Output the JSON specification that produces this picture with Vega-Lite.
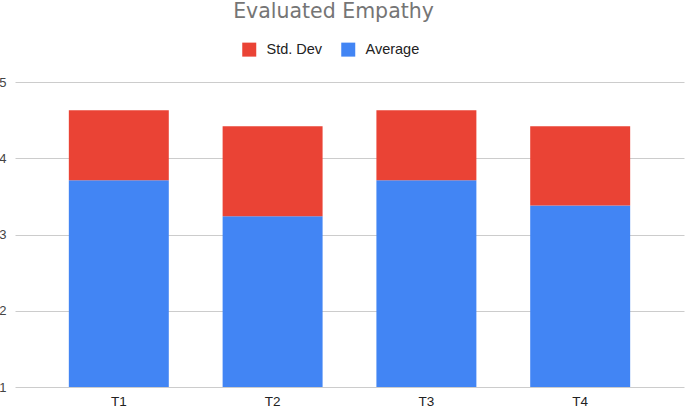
{
  "$schema": "https://vega.github.io/schema/vega-lite/v6.json",
  "width": 669,
  "height": 305,
  "autosize": {"type": "none"},
  "padding": {"left": 15, "top": 82, "right": 1, "bottom": 21},
  "background": "white",
  "title": {
    "text": "Evaluated Empathy",
    "anchor": "middle",
    "font": "DejaVu Sans",
    "fontSize": 20.5,
    "fontWeight": "normal",
    "color": "#757575",
    "offset": 20,
    "dx": -16
  },
  "data": {
    "values": [
      {"task": "T1", "series": "Average", "value": 3.71},
      {"task": "T1", "series": "Std. Dev", "value": 0.92},
      {"task": "T2", "series": "Average", "value": 3.24},
      {"task": "T2", "series": "Std. Dev", "value": 1.18},
      {"task": "T3", "series": "Average", "value": 3.71},
      {"task": "T3", "series": "Std. Dev", "value": 0.92},
      {"task": "T4", "series": "Average", "value": 3.38},
      {"task": "T4", "series": "Std. Dev", "value": 1.04}
    ]
  },
  "mark": {"type": "bar", "clip": true},
  "encoding": {
    "x": {
      "field": "task",
      "type": "nominal",
      "scale": {"paddingInner": 0.35, "paddingOuter": 0.35},
      "axis": {
        "title": null,
        "labelAngle": 0,
        "domain": false,
        "ticks": false,
        "labelPadding": 7,
        "labelFont": "Liberation Sans",
        "labelFontSize": 13.5,
        "labelColor": "#222222"
      }
    },
    "y": {
      "field": "value",
      "type": "quantitative",
      "stack": "zero",
      "scale": {"domain": [1, 5], "nice": false, "zero": false},
      "axis": {
        "title": null,
        "values": [1, 2, 3, 4, 5],
        "domain": false,
        "ticks": false,
        "labelPadding": 9,
        "labelFont": "Liberation Sans",
        "labelFontSize": 13,
        "labelColor": "#444444",
        "gridColor": "#cccccc",
        "gridWidth": 1
      }
    },
    "color": {
      "field": "series",
      "type": "nominal",
      "scale": {"domain": ["Std. Dev", "Average"], "range": ["#EA4335", "#4285F4"]},
      "legend": {
        "title": null,
        "orient": "none",
        "direction": "horizontal",
        "legendX": 227,
        "legendY": -40,
        "symbolType": "square",
        "symbolSize": 196,
        "symbolStrokeWidth": 0,
        "labelOffset": 10,
        "columnPadding": 18,
        "labelFont": "Liberation Sans",
        "labelFontSize": 14.5,
        "labelColor": "#222222"
      }
    },
    "order": {"field": "series", "sort": "ascending"}
  },
  "config": {"view": {"stroke": null}}
}
